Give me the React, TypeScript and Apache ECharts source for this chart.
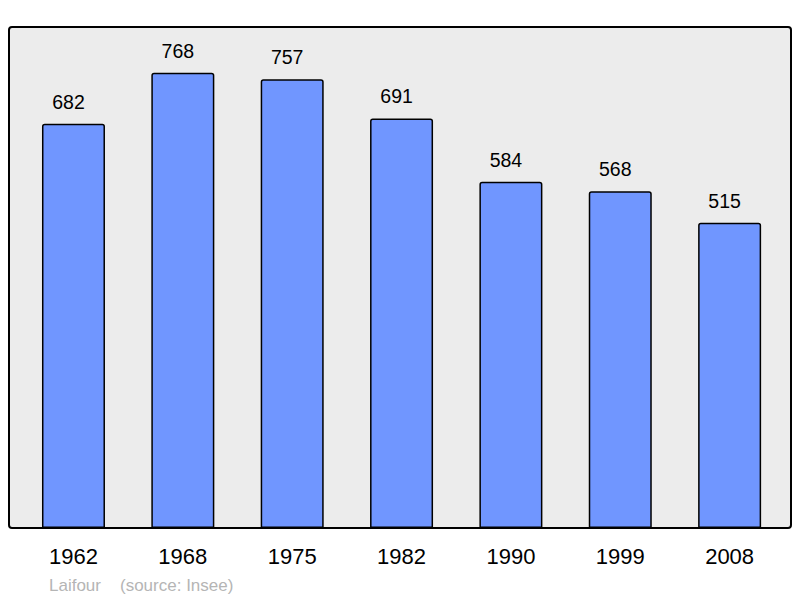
import React, { useEffect, useRef } from "react";
import * as echarts from "echarts";

const years = ["1962", "1968", "1975", "1982", "1990", "1999", "2008"];
const population = [682, 768, 757, 691, 584, 568, 515];
const authorText = "Laifour";
const sourceText = "(source: Insee)";

const FONT = "'Liberation Sans', Arial, sans-serif";

export default function App() {
  const ref = useRef<HTMLDivElement>(null);
  useEffect(() => {
    document.body.style.margin = "0";
    const chart = echarts.init(ref.current!, null, { renderer: "svg" });
    chart.setOption({
      animation: false,
      backgroundColor: "#ffffff",
      textStyle: { fontFamily: FONT },
      graphic: [
        {
          type: "rect",
          z: -10,
          shape: { x: 9, y: 27, width: 782, height: 501, r: 3 },
          style: { fill: "#ececec", stroke: "#000000", lineWidth: 2 },
        },
        {
          type: "text",
          x: 49,
          y: 585,
          style: {
            text: authorText,
            fill: "#b5b5b5",
            font: `17px ${FONT}`,
            verticalAlign: "middle",
          },
        },
        {
          type: "text",
          x: 120,
          y: 585,
          style: {
            text: sourceText,
            fill: "#b5b5b5",
            font: `17px ${FONT}`,
            verticalAlign: "middle",
          },
        },
      ],
      grid: { left: 18.8, right: 15.7, top: 53.8, bottom: 70, containLabel: false },
      xAxis: {
        type: "category",
        data: years,
        axisLine: { show: false },
        axisTick: { show: false },
        axisLabel: { color: "#000000", fontSize: 22, margin: 17, fontFamily: FONT },
      },
      yAxis: {
        type: "value",
        min: 0,
        max: 800,
        show: false,
        splitLine: { show: false },
      },
      series: [
        {
          type: "bar",
          data: population,
          barWidth: 63,
          itemStyle: {
            color: "#7096ff",
            borderColor: "#000000",
            borderWidth: 1.5,
            borderRadius: [2, 2, 0, 0],
          },
          label: {
            show: true,
            position: "top",
            distance: 12,
            offset: [-5, 0],
            color: "#000000",
            fontSize: 19.5,
            fontFamily: FONT,
          },
        },
      ],
    });
    return () => chart.dispose();
  }, []);
  return <div ref={ref} style={{ width: 800, height: 598 }} />;
}
